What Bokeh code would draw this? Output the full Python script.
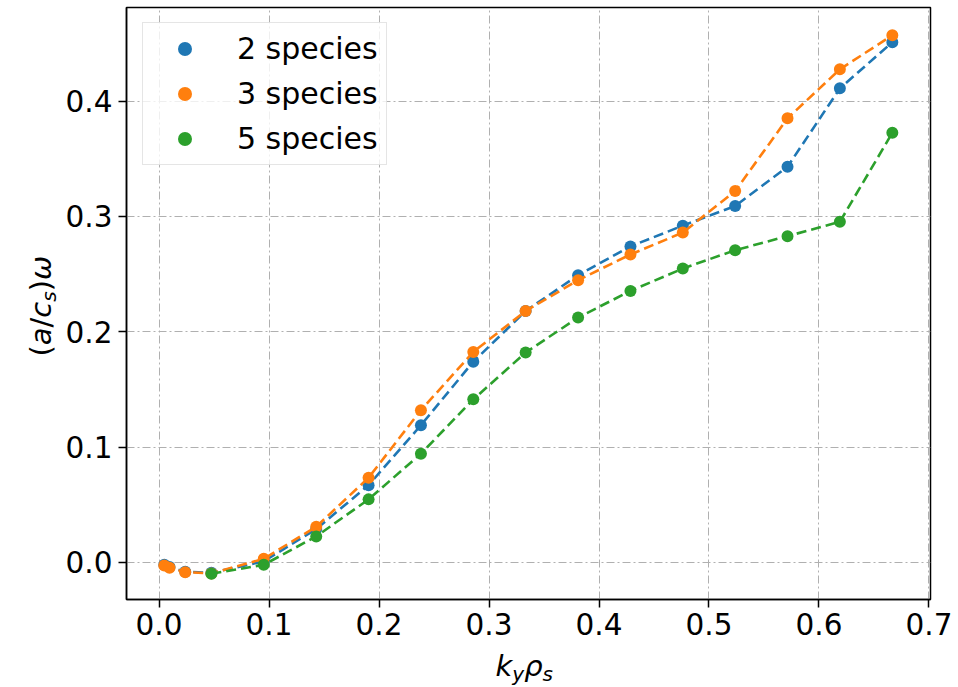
import math
from bokeh.plotting import figure
from bokeh.layouts import row, column
from bokeh.models import Range1d, Legend, LegendItem, FixedTicker, PrintfTickFormatter
from bokeh.core.properties import value
from bokeh.embed import file_html
from bokeh.resources import INLINE

# ---- data ----
ky_rho_s = [0.00476, 0.00952, 0.0238, 0.0476, 0.0952, 0.1429, 0.1905, 0.2381, 0.2857,
            0.3333, 0.3810, 0.4286, 0.4762, 0.5238, 0.5714, 0.6190, 0.6667]
omega_2species = [-0.002, -0.004, -0.008, -0.009, 0.001, 0.029, 0.067, 0.119, 0.174,
                  0.218, 0.249, 0.274, 0.292, 0.309, 0.343, 0.411, 0.451]
omega_3species = [-0.0026, -0.0046, -0.0084, -0.0095, 0.0032, 0.031, 0.0735, 0.132, 0.1825,
                  0.218, 0.2447, 0.267, 0.286, 0.322, 0.385, 0.4275, 0.457]
ky_rho_s_5 = [0.0476, 0.0952, 0.1429, 0.1905, 0.2381, 0.2857, 0.3333, 0.3810, 0.4286,
              0.4762, 0.5238, 0.5714, 0.6190, 0.6667]
omega_5species = [-0.0098, -0.002, 0.0226, 0.0547, 0.0943, 0.1414, 0.182, 0.2123, 0.2354,
                  0.2548, 0.2707, 0.2829, 0.2953, 0.3725]
series_labels = ["2 species", "3 species", "5 species"]
series_colors = ["#1f77b4", "#ff7f0e", "#2ca02c"]
x_ticks = [0.0, 0.1, 0.2, 0.3, 0.4, 0.5, 0.6, 0.7]
y_ticks = [0.0, 0.1, 0.2, 0.3, 0.4]

FONT = "DejaVu Sans"
TICK_FS = "29.5px"
LEG_FS = "30px"

YL_W = 62                 # strip holding the y-axis label
MAIN_H = 647              # main figure height
XL_H = 687 - MAIN_H       # strip holding the x-axis label
FRAME_TOP, FRAME_BOTTOM = 7, 599

p = figure(width=958 - YL_W, height=MAIN_H, output_backend="svg", toolbar_location=None,
           x_range=Range1d(-0.0296, 0.7014), y_range=Range1d(-0.0321, 0.4811),
           min_border_left=126 - YL_W, min_border_right=28, min_border_top=FRAME_TOP,
           min_border_bottom=MAIN_H - FRAME_BOTTOM)
p.background_fill_color = "white"
p.border_fill_color = "white"
p.outline_line_color = "black"
p.outline_line_width = 1.5

for ax, ticks in ((p.xaxis, x_ticks), (p.yaxis, y_ticks)):
    ax.ticker = FixedTicker(ticks=ticks)
    ax.formatter = PrintfTickFormatter(format="%.1f")
    ax.major_label_text_font = FONT
    ax.major_label_text_font_size = TICK_FS
    ax.major_label_text_color = "black"
    ax.axis_line_color = "black"
    ax.axis_line_width = 1.5
    ax.major_tick_line_color = "black"
    ax.major_tick_line_width = 1.5
    ax.major_tick_out = 8
    ax.major_tick_in = 0
    ax.minor_tick_line_color = None
p.xaxis.major_label_standoff = 5
p.yaxis.major_label_standoff = 6

for g in (p.xgrid, p.ygrid):
    g.grid_line_color = "#b0b0b0"
    g.grid_line_width = 1
    g.grid_line_dash = "8 3 2 3"

xs = [ky_rho_s, ky_rho_s, ky_rho_s_5]
ys = [omega_2species, omega_3species, omega_5species]
items = []
for x, y, lab, col in zip(xs, ys, series_labels, series_colors):
    p.line(x, y, line_color=col, line_width=2.6, line_dash="10 5")
    r = p.scatter(x, y, size=12, fill_color=col, line_color=col, line_width=0)
    items.append(LegendItem(label=lab, renderers=[r]))

legend = Legend(items=items, location=(16, 434))
legend.label_text_font = FONT
legend.label_text_font_size = LEG_FS
legend.label_text_color = "black"
legend.border_line_color = "#cccccc"
legend.border_line_width = 1
legend.background_fill_alpha = 0.8
legend.padding = 8
legend.margin = 0
legend.spacing = 10
legend.glyph_width = 67
legend.glyph_height = 35
legend.label_height = 35
legend.label_standoff = 19
p.add_layout(legend)


def blank(w, h, xr, yr):
    f = figure(width=w, height=h, output_backend="svg", toolbar_location=None,
               x_range=xr, y_range=yr, x_axis_type=None, y_axis_type=None,
               min_border=0, min_border_left=0, min_border_right=0,
               min_border_top=0, min_border_bottom=0)
    f.title.visible = False
    f.outline_line_color = None
    f.xgrid.visible = False
    f.ygrid.visible = False
    f.background_fill_color = "white"
    f.border_fill_color = "white"
    return f


BASE_FIX = 0.33   # bokeh's alphabetic anchor sits this fraction of the size below the baseline


def place(fig, pieces, start, base, horizontal):
    pos = start
    for text, style, size, adv, shift in pieces:
        off = shift - BASE_FIX * size
        if horizontal:
            fig.text(x=[pos], y=[base + off], text=[text], text_font=value(FONT),
                     text_font_style=style, text_font_size=f"{size}px", text_color="black",
                     text_baseline="alphabetic", text_align="left")
        else:
            fig.text(x=[base + off], y=[pos], text=[text], angle=math.pi / 2,
                     text_font=value(FONT), text_font_style=style,
                     text_font_size=f"{size}px", text_color="black",
                     text_baseline="alphabetic", text_align="left")
        pos += adv * size


# y-label strip: its frame is aligned with the main frame, data y = MAIN_H - page y
yl = blank(YL_W, MAIN_H, Range1d(0, YL_W), Range1d(MAIN_H - FRAME_BOTTOM, MAIN_H - FRAME_TOP))
ylabel = [("(", "normal", 29, 0.39, 0), ("a", "italic", 29, 0.613, 0),
          ("/", "normal", 29, 0.337, 0), ("c", "italic", 29, 0.55, 0),
          ("s", "italic", 20, 0.521, 5), (")", "normal", 29, 0.39, 0),
          ("ω", "italic", 29, 0.8, 0)]
place(yl, ylabel, MAIN_H - 356, 50, False)

# x-label strip: data units are pixels, y measured downward from the strip top
xl = blank(958, XL_H, Range1d(0, 958), Range1d(XL_H, 0))
xlabel = [("k", "italic", 29, 0.579, 0), ("y", "italic", 20, 0.592, 5),
          ("ρ", "italic", 29, 0.635, 0), ("s", "italic", 20, 0.521, 5)]
place(xl, xlabel, 495, 675 - MAIN_H, True)

layout = column(row(yl, p, spacing=0), xl, spacing=0)
open("out.html", "w").write(file_html(layout, INLINE))
